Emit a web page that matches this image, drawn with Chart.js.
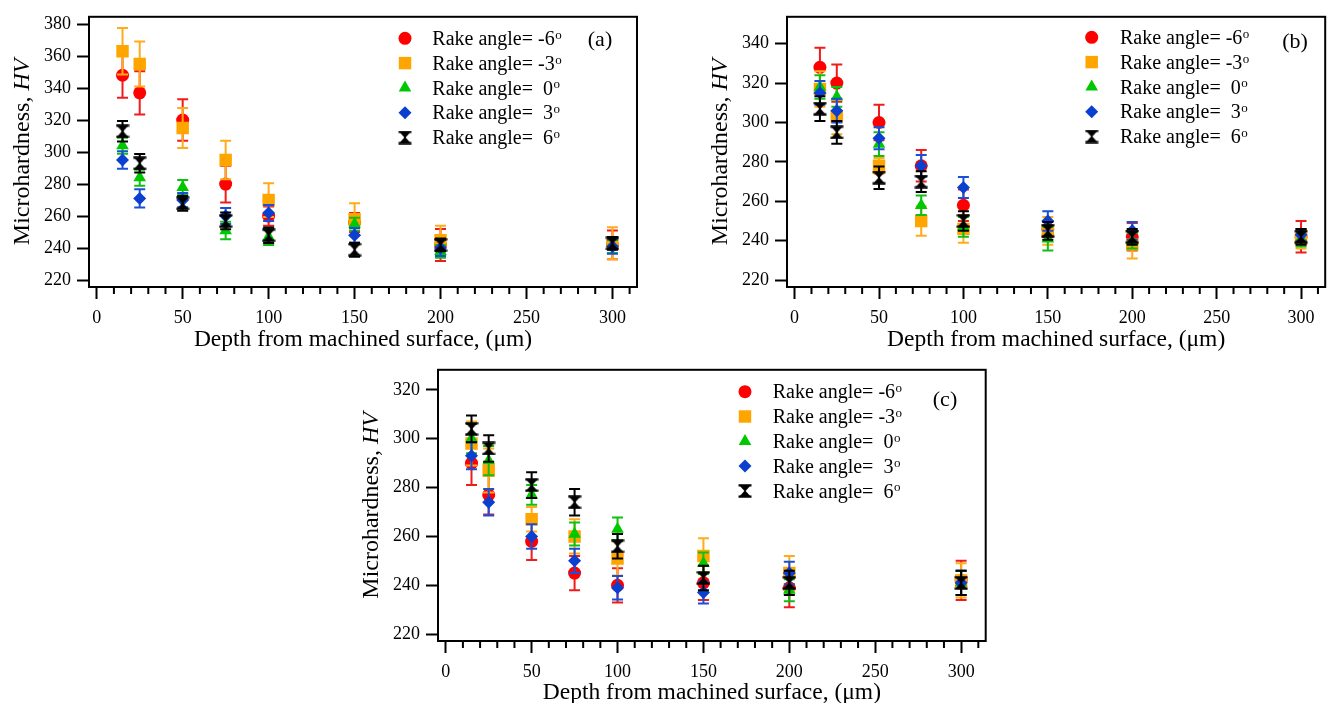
<!DOCTYPE html>
<html><head><meta charset="utf-8">
<script src="https://cdn.jsdelivr.net/npm/chart.js@4.4.1/dist/chart.umd.min.js"></script>
<style>
html,body{margin:0;padding:0;background:#fff;overflow:hidden;width:1334px;height:703px;position:relative;}
canvas{position:absolute;display:block;}
</style></head><body>
<canvas id="ca" width="667" height="360" style="left:0px;top:0px;width:667px;height:360px"></canvas>
<canvas id="cb" width="636" height="360" style="left:698px;top:0px;width:636px;height:360px"></canvas>
<canvas id="cc" width="667" height="360" style="left:349px;top:353px;width:667px;height:360px"></canvas>
<script>
// ---------- DATA ----------
const depths = [15, 25, 50, 75, 100, 150, 200, 300];
const seriesLabels = ['Rake angle= -6', 'Rake angle= -3', 'Rake angle=  0', 'Rake angle=  3', 'Rake angle=  6'];
const panelTags = ['(a)', '(b)', '(c)'];
const xTitle = 'Depth from machined surface, (\u03bcm)';

// panel (a)
const aHvM6 = [348, 337, 320, 280, 260, 256, 242, 242];
const aErrM6 = [14, 13.5, 13, 11.5, 6, 6, 10, 9];
const aHvM3 = [363, 355, 315, 295, 270, 258, 245, 243];
const aErrM3 = [14.5, 14, 12.5, 12, 10.5, 10, 9, 10];
const aHv0 = [304, 284, 278, 251, 247, 255, 238, 241];
const aErr0 = [5, 5, 4.5, 5.5, 5, 4, 4, 4];
const aHv3 = [295, 271, 270, 260, 262, 248, 240, 241];
const aErr3 = [5.5, 5.7, 4.5, 5, 5, 4.6, 5, 4.5];
const aHv6 = [313, 293, 268, 257, 248, 239, 242, 243];
const aErr6 = [6.4, 5.8, 4.6, 5.3, 4.8, 4.4, 4, 4];

// panel (b)
const bHvM6 = [328, 320, 300, 278, 258, 246, 242, 242];
const bErrM6 = [10, 9.5, 9, 8, 8, 4, 7, 8];
const bHvM3 = [317, 303, 278, 250, 246, 245, 238, 241];
const bErrM3 = [9, 9, 4, 7.5, 7, 7, 7, 5];
const bHv0 = [318, 313, 289, 258, 247, 241, 240, 241];
const bErr0 = [6, 5, 6, 5, 5, 6, 4, 4];
const bHv3 = [315, 306, 292, 278, 267, 250, 245, 243];
const bErr3 = [6, 6, 5.6, 5.5, 5.3, 5, 4.5, 3];
const bHv6 = [307, 295, 272, 270, 250, 245, 242, 242];
const bErr6 = [6.3, 5.8, 5.7, 5.3, 5, 4.5, 4, 4];

// panel (c)
const cHvM6 = [290, 277, 258, 245, 240, 241, 239, 242];
const cErrM6 = [9, 8, 7.6, 7, 7, 7, 8, 8];
const cHvM3 = [298, 287, 267, 260, 251, 252, 245, 242];
const cErrM3 = [9, 9, 5, 7, 7, 7.3, 7, 7];
const cHv0 = [300, 291, 277, 261, 263, 249, 238, 241];
const cErr0 = [6, 6, 4, 4.7, 4.7, 4.4, 4.5, 5];
const cHv3 = [293, 274, 260, 250, 239, 237, 245, 241];
const cErr3 = [5.5, 5.4, 5, 5, 4.8, 4.5, 4.6, 5];
const cHv6 = [304, 296, 281, 274, 256, 243, 241, 241];
const cErr6 = [5.5, 5.4, 5.3, 5.4, 5, 5, 5, 5];

// ---------- STYLES ----------
function makeHourglass() {
  const c = document.createElement('canvas');
  c.width = 14; c.height = 14;
  const g = c.getContext('2d');
  g.fillStyle = '#000';
  g.beginPath(); g.moveTo(0.5, 0.5); g.lineTo(13.5, 0.5); g.lineTo(7.6, 7); g.lineTo(6.4, 7); g.closePath(); g.fill();
  g.beginPath(); g.moveTo(0.5, 13.5); g.lineTo(13.5, 13.5); g.lineTo(7.6, 7); g.lineTo(6.4, 7); g.closePath(); g.fill();
  g.fillRect(0.5, 0.5, 13, 2);
  g.fillRect(0.5, 11.5, 13, 2);
  return c;
}
const hourglass = makeHourglass();
const styles = [
  {color: '#ff0000', err: '#f01c1c', pointStyle: 'circle', radius: 6.5},
  {color: '#ffa500', err: '#ffab1a', pointStyle: 'rect', radius: 8.8},
  {color: '#00c800', err: '#10c010', pointStyle: 'triangle', radius: 7.3},
  {color: '#0a3fd0', err: '#1a4fd8', pointStyle: 'rectRot', radius: 6.5},
  {color: '#000000', err: '#000000', pointStyle: hourglass, radius: 7}
];
const FONT = 'Liberation Serif, Times New Roman, serif';

const panels = [
  {id: 'ca', tag: panelTags[0], yMin: 215.7, yMax: 384.5, padTop: 13, padRight: 30, xAxisH: 73,
   values: [aHvM6, aHvM3, aHv0, aHv3, aHv6], errors: [aErrM6, aErrM3, aErr0, aErr3, aErr6],
   legX: 405, legY: 38.3, legTX: 432.3, tagX: 600, tagY: 46},
  {id: 'cb', tag: panelTags[1], yMin: 216.5, yMax: 353.65, padTop: 13, padRight: 2, xAxisH: 73,
   values: [bHvM6, bHvM3, bHv0, bHv3, bHv6], errors: [bErrM6, bErrM3, bErr0, bErr3, bErr6],
   legX: 393.7, legY: 37.3, legTX: 422, tagX: 597, tagY: 48},
  {id: 'cc', tag: panelTags[2], yMin: 217.2, yMax: 328.2, padTop: 12.7, padRight: 30.3, xAxisH: 72,
   values: [cHvM6, cHvM3, cHv0, cHv3, cHv6], errors: [cErrM6, cErrM3, cErr0, cErr3, cErr6],
   legX: 396, legY: 38.7, legTX: 423.7, tagX: 596, tagY: 53}
];

function drawMarker(ctx, st, x, y) {
  ctx.save();
  ctx.fillStyle = st.color;
  if (st.pointStyle instanceof HTMLCanvasElement) {
    ctx.drawImage(st.pointStyle, x - st.pointStyle.width / 2, y - st.pointStyle.height / 2);
  } else if (Chart.helpers && Chart.helpers.drawPoint) {
    Chart.helpers.drawPoint(ctx, {pointStyle: st.pointStyle, radius: st.radius, rotation: 0, borderWidth: 0}, x, y);
  } else {
    ctx.beginPath(); ctx.arc(x, y, st.radius, 0, Math.PI * 2); ctx.fill();
  }
  ctx.restore();
}

function panelPlugin(p) {
  return {
    id: 'panelDeco',
    beforeDatasetDraw(chart, args) {
      const ds = chart.data.datasets[args.index];
      const xs = chart.scales.x, ys = chart.scales.y;
      const ctx = chart.ctx;
      ctx.save();
      ctx.strokeStyle = ds.errColor;
      ctx.lineWidth = 2;
      ds.data.forEach((pt, i) => {
        const e = ds.errors[i];
        const px = xs.getPixelForValue(pt.x);
        const y1 = ys.getPixelForValue(pt.y + e);
        const y2 = ys.getPixelForValue(pt.y - e);
        ctx.beginPath();
        ctx.moveTo(px, y1); ctx.lineTo(px, y2);
        ctx.moveTo(px - 5.5, y1); ctx.lineTo(px + 5.5, y1);
        ctx.moveTo(px - 5.5, y2); ctx.lineTo(px + 5.5, y2);
        ctx.stroke();
      });
      ctx.restore();
    },
    afterDraw(chart) {
      const ctx = chart.ctx;
      const a = chart.chartArea;
      const xs = chart.scales.x;
      ctx.save();
      // frame
      ctx.strokeStyle = '#000'; ctx.lineWidth = 2;
      ctx.strokeRect(a.left, a.top, a.right - a.left, a.bottom - a.top);
      // minor x ticks
      ctx.beginPath();
      xs.ticks.forEach(t => {
        if (t.value % 50 !== 0) {
          const px = xs.getPixelForValue(t.value);
          ctx.moveTo(px, a.bottom); ctx.lineTo(px, a.bottom + 7);
        }
      });
      ctx.stroke();
      // y title with italic HV
      ctx.fillStyle = '#000';
      ctx.translate(20.5, (a.top + a.bottom) / 2);
      ctx.rotate(-Math.PI / 2);
      ctx.font = '24px ' + FONT;
      const t1 = 'Microhardness, ';
      const w1 = ctx.measureText(t1).width;
      ctx.font = 'italic 24px ' + FONT;
      const w2 = ctx.measureText('HV').width;
      const start = -(w1 + w2) / 2;
      ctx.textBaseline = 'alphabetic';
      ctx.textAlign = 'left';
      ctx.font = '24px ' + FONT;
      ctx.fillText(t1, start, 8);
      ctx.font = 'italic 24px ' + FONT;
      ctx.fillText('HV', start + w1, 8);
      ctx.restore();

      // legend
      ctx.save();
      chart.data.datasets.forEach((ds, k) => {
        const y = p.legY + k * 24.8;
        drawMarker(ctx, styles[k], p.legX, y);
        ctx.fillStyle = '#000';
        ctx.textAlign = 'left';
        ctx.textBaseline = 'alphabetic';
        ctx.font = '20px ' + FONT;
        ctx.fillText(seriesLabels[k], p.legTX, y + 6.6);
        const w = ctx.measureText(seriesLabels[k]).width;
        ctx.font = '13px ' + FONT;
        ctx.fillText('o', p.legTX + w + 0.5, y + 0.5);
      });
      // panel tag
      ctx.font = '22px ' + FONT;
      ctx.textAlign = 'center';
      ctx.fillText(p.tag, p.tagX, p.tagY);
      ctx.restore();
    }
  };
}

function makeChart(p) {
  const datasets = p.values.map((vals, k) => ({
    label: seriesLabels[k],
    data: depths.map((d, i) => ({x: d, y: vals[i]})),
    errors: p.errors[k],
    errColor: styles[k].err,
    showLine: false,
    pointStyle: styles[k].pointStyle,
    pointRadius: styles[k].radius,
    pointHoverRadius: styles[k].radius,
    pointBackgroundColor: styles[k].color,
    backgroundColor: styles[k].color,
    borderColor: styles[k].color,
    pointBorderWidth: 0,
    borderWidth: 0,
    order: 5 - k
  }));
  return new Chart(document.getElementById(p.id), {
    type: 'scatter',
    data: {datasets},
    options: {
      responsive: false,
      animation: false,
      devicePixelRatio: 1,
      layout: {padding: {left: 0, top: p.padTop, right: p.padRight, bottom: 0}},
      plugins: {legend: {display: false}, tooltip: {enabled: false}},
      scales: {
        x: {
          type: 'linear', min: -4.5, max: 314.3,
          afterFit(s) { s.height = p.xAxisH; },
          border: {display: false},
          grid: {
            drawOnChartArea: false, drawTicks: true, tickLength: 12, tickWidth: 2,
            tickColor: (c) => (c.tick && c.tick.value % 50 === 0) ? '#000' : 'rgba(0,0,0,0)'
          },
          ticks: {
            stepSize: 10, includeBounds: false, autoSkip: false, maxRotation: 0, minRotation: 0,
            padding: 8, color: '#000', font: {family: FONT, size: 18},
            callback: (v) => (v % 50 === 0 ? String(v) : '')
          },
          title: {display: true, text: xTitle, color: '#000', font: {family: FONT, size: 23.5}, padding: {top: 0, bottom: 6.5}}
        },
        y: {
          type: 'linear', min: p.yMin, max: p.yMax,
          afterFit(s) { s.width = 89; },
          border: {display: false},
          grid: {drawOnChartArea: false, drawTicks: true, tickLength: 12, tickWidth: 2, tickColor: '#000'},
          ticks: {stepSize: 20, includeBounds: false, padding: 6, color: '#000', font: {family: FONT, size: 18}},
          title: {display: false}
        }
      }
    },
    plugins: [panelPlugin(p)]
  });
}

panels.forEach(makeChart);
</script>
</body></html>
